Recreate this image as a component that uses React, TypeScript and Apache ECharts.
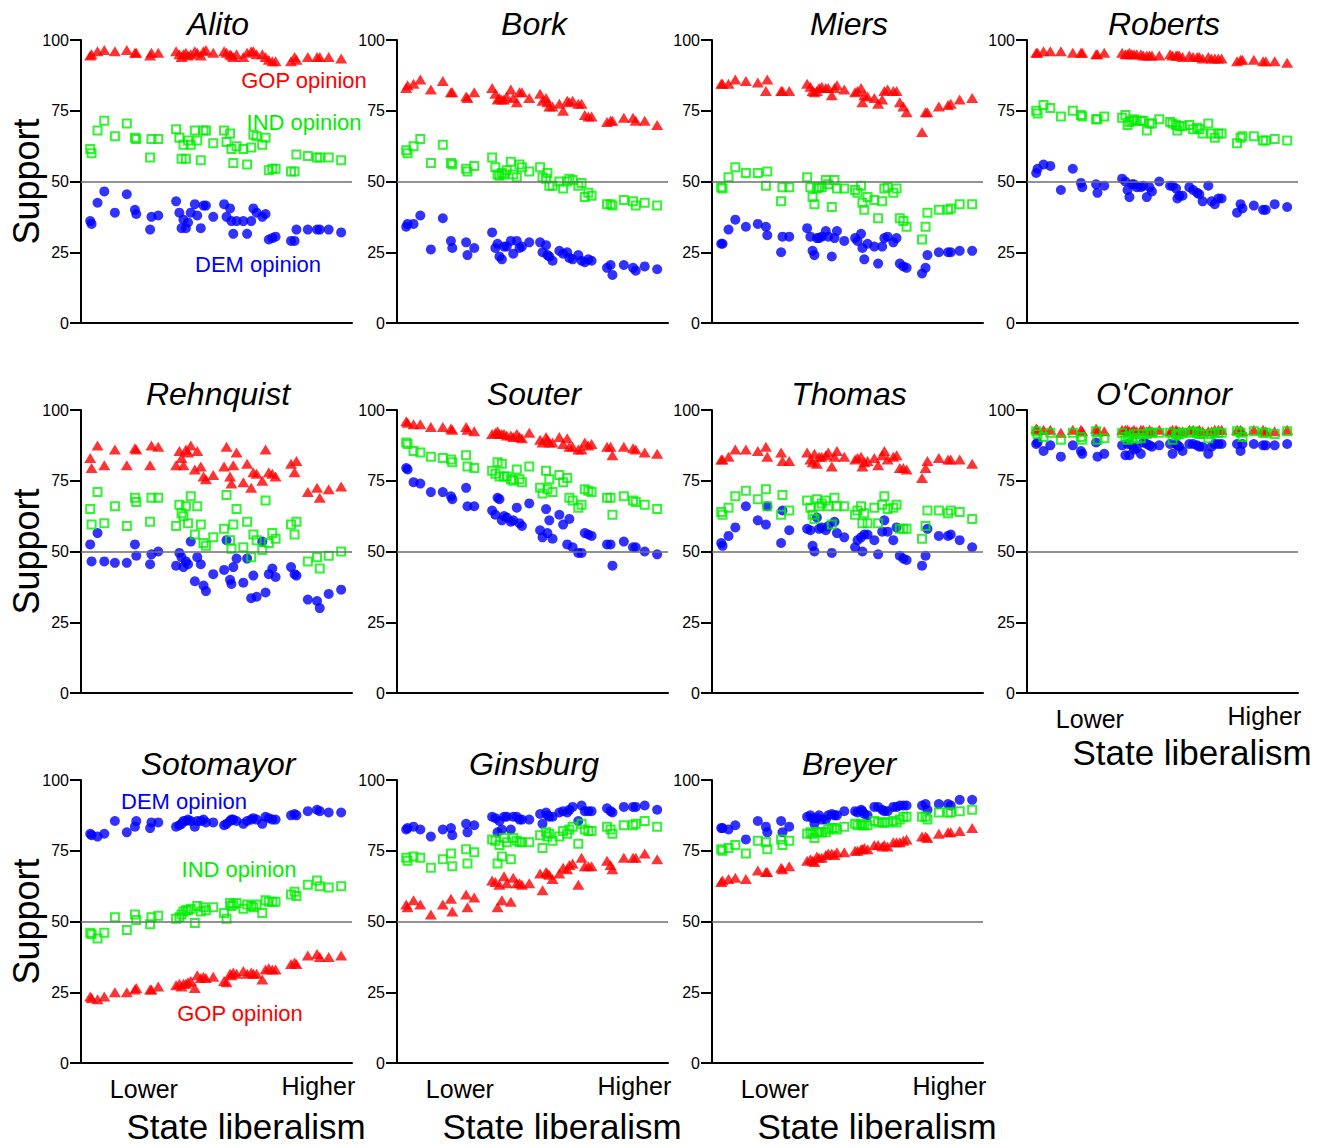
import React, { useEffect, useRef } from 'react';
import * as echarts from 'echarts';

// State liberalism scores (0 = most conservative, 100 = most liberal), shared by all panels
const stateX = [3.4, 3.9, 6.1, 8.6, 12.5, 16.9, 19.9, 20.4, 25.5, 26.0, 28.5, 35.1, 36.3, 37.1, 37.8, 38.7, 39.5, 40.5, 42.0, 42.9, 44.2, 45.2, 46.1, 48.8, 52.8, 53.7, 55.0, 55.5, 56.2, 57.4, 59.9, 61.3, 62.8, 63.6, 64.8, 66.9, 68.1, 69.3, 70.6, 71.8, 77.5, 78.8, 79.5, 83.7, 87.1, 88.1, 91.4, 96.0];

const yTicks = [0, 25, 50, 75, 100];
const xTickLabels = ['Lower', 'Higher'];
const xTickValues = [23.2, 87.6];

const alitoGop = [94.5, 95, 96, 96.5, 96, 96.5, 95.5, 95.5, 94.5, 95.5, 95.5, 96, 95, 94, 95, 95.5, 94.5, 95, 96, 95.5, 94.5, 96, 96.5, 95.5, 96, 95.5, 95, 94.5, 94, 95, 94, 95.5, 96, 96, 95, 95, 94, 93, 92.5, 92.5, 92.5, 94, 93, 94, 94, 94, 94, 93.5];
const alitoInd = [61.5, 60, 68, 71.5, 66, 70.5, 65.5, 65, 58.5, 65, 65, 68.5, 65.5, 58, 63, 58, 64.5, 63, 68, 64.5, 57.5, 68, 68, 63.5, 68, 64, 67, 61.5, 56.5, 62.5, 61.5, 56, 62, 66.5, 66, 63, 65.5, 54, 54.5, 54.5, 53.5, 53.5, 59.5, 59, 58.5, 58.5, 58.5, 57.5];
const alitoDem = [36, 35, 42.5, 46.5, 39, 45.5, 40, 38.5, 33, 37.5, 38, 43, 39, 33.5, 36.5, 33.5, 35.5, 39, 42, 38, 33.5, 41.5, 41.5, 37.5, 42, 37.5, 40.5, 36, 31.5, 36, 36, 31.5, 36, 40.5, 39, 37.5, 38.5, 29.5, 30, 30.5, 29, 29, 33, 33, 33, 33, 33, 32];

const borkGop = [83, 84, 84.5, 86, 82.5, 85.5, 81.5, 81.5, 80, 79.5, 81.5, 83, 81, 79, 79.5, 79, 79, 80, 82.5, 79.5, 78, 81.5, 81.5, 79.5, 81, 78.5, 79.5, 78, 76.5, 76.5, 77.5, 75, 78.5, 78, 78.5, 77.5, 77.5, 73.5, 73, 73, 71, 71.5, 71.5, 72.5, 72.5, 71.5, 71.5, 70];
const borkInd = [61, 60, 62.5, 65, 56.5, 63, 56.5, 56, 54.5, 53.5, 55.5, 58.5, 55, 52.5, 52, 53, 52.5, 54, 57, 52.5, 51.5, 56, 55, 53.5, 55, 51.5, 51, 53, 48.5, 48.5, 50, 47.5, 50, 51, 50.5, 48.5, 49.5, 44.5, 46, 45, 42, 42, 41.5, 43.5, 43, 41.5, 42.5, 41.5];
const borkDem = [34, 35, 35, 38, 26, 37, 29, 26.5, 28.5, 24, 26.5, 32, 26.5, 28, 23.5, 22.5, 27, 27, 29, 24.5, 29, 26.5, 27, 28.5, 28.5, 25, 27.5, 24, 23.5, 22, 25.5, 24.5, 25, 23, 22.5, 24, 22, 21.5, 22.5, 22, 19.5, 20.5, 17, 20.5, 19.5, 18.5, 20, 19];

const miersGop = [84.5, 84.5, 84.5, 86, 85.5, 85, 82, 86, 82, 82, 82, 84.5, 83.5, 82, 81.5, 82, 83, 83.5, 83, 83, 80.5, 83, 84, 82.5, 81.5, 82, 83, 78, 80.5, 80, 79.5, 77.5, 79, 82, 82.5, 82, 82, 78, 76.5, 74.5, 67.5, 74.5, 74.5, 76.5, 77, 77.5, 79, 79.5];
const miersInd = [48, 47.5, 51.5, 55, 53, 53, 48.5, 53.5, 43, 48, 48, 51.5, 48, 44.5, 42, 47.5, 48, 48, 50.5, 49, 41, 50.5, 47.5, 47.5, 47, 46, 48.5, 42.5, 40, 44.5, 43.5, 37, 43, 47.5, 48, 46, 47.5, 37, 36, 34, 29.5, 34, 39, 40, 40, 40.5, 42, 42];
const miersDem = [28, 28, 33, 36.5, 34, 35, 34, 31, 25, 30.5, 30.5, 33.5, 30.5, 25.5, 24, 30, 30, 30.5, 32.5, 30.5, 23.5, 30, 32.5, 29, 30, 29, 31.5, 26.5, 22.5, 28, 27, 21, 27, 30, 30.5, 28.5, 30, 21, 20, 19.5, 17.5, 19.5, 24, 25, 25, 25, 25.5, 25.5];

const robertsGop = [95.5, 95.5, 96, 96, 96, 95.5, 95.5, 95.5, 95, 95, 95.5, 95.5, 95, 95, 95.5, 95, 95, 95, 95, 94.5, 94.5, 94.5, 94.5, 94.5, 95, 94.5, 94.5, 94.5, 94.5, 94, 94.5, 94, 94, 94, 93.5, 94, 93.5, 93.5, 93.5, 93.5, 92.5, 93, 93, 93, 92.5, 92.5, 92.5, 92];
const robertsInd = [75, 74, 77, 76, 73, 75, 73.5, 73, 72, 72, 73, 72.5, 73.5, 70, 71, 71.5, 72, 71.5, 71.5, 71.5, 68, 70.5, 70.5, 72, 71, 70.5, 70, 68, 69.5, 69.5, 70, 68.5, 69, 68.5, 67, 70.5, 67, 65.5, 67, 67, 63.5, 65.5, 66, 66, 64.5, 64.5, 65, 64.5];
const robertsDem = [53, 54.5, 56, 55.5, 47, 54.5, 49.5, 48, 49, 46, 48.5, 51, 50, 47, 44.5, 49, 49, 48, 48, 48.5, 44.5, 48, 46.5, 50, 48.5, 48.5, 47.5, 44, 45, 45, 48, 47, 46, 45.5, 43, 48.5, 43, 42, 44, 44, 39, 42, 40.5, 41.5, 40, 40, 42, 41];

const rehnquistGop = [83, 79.5, 87.5, 80.5, 86, 80.5, 86.5, 86, 80.5, 87.5, 87, 80.5, 85.5, 83, 80.5, 86, 85, 87.5, 79, 85.5, 80, 76.5, 75.5, 77, 80, 87, 76.5, 74, 80.5, 85, 74.5, 81, 72.5, 78, 77.5, 75, 86, 78, 77.5, 76.5, 81, 78, 82, 71, 72.5, 69, 72, 73];
const rehnquistInd = [65, 59.5, 71, 60, 66, 59, 69, 67.5, 60.5, 69, 69, 59, 66.5, 63.5, 62.5, 66, 60, 69.5, 56, 66, 59.5, 53, 52, 55, 58, 70, 54, 51, 59.5, 65, 51.5, 60.5, 48, 56, 54, 50.5, 68, 53, 56.5, 54.5, 59.5, 56, 60.5, 46.5, 48, 44, 48.5, 50];
const rehnquistDem = [52.5, 46.5, 56.5, 46.5, 46, 46, 52.5, 48.5, 45.5, 49, 50, 45, 49.5, 48, 44.5, 46.5, 45.5, 53.5, 39.5, 48, 45.5, 38, 36, 42, 43.5, 54, 40, 38.5, 44.5, 47.5, 39, 47.5, 33.5, 41.5, 34, 53.5, 35.5, 42, 44, 41, 44.5, 42, 41.5, 33, 32.5, 30, 35, 36.5];

const souterGop = [96, 95.5, 95, 95, 94, 94, 93.5, 93, 94, 93, 92.5, 91.5, 92, 92.5, 91.5, 91.5, 91.5, 91, 91, 90.5, 91.5, 90.5, 90, 92, 89.5, 88.5, 90.5, 89.5, 88.5, 88.5, 90.5, 88, 90, 87, 87, 86, 86, 88.5, 87.5, 88, 87, 87, 84, 87, 86.5, 86, 85, 84.5];
const souterInd = [88.5, 88, 85.5, 85, 83.5, 83, 82.5, 81.5, 84, 80, 79.5, 78.5, 77.5, 81.5, 76.5, 81, 76.5, 76.5, 75.5, 75, 79, 75.5, 74.5, 80, 72.5, 70.5, 78.5, 72, 75.5, 71, 77, 74.5, 76, 69, 68, 65.5, 66.5, 72, 71.5, 71, 69, 69, 63, 69.5, 68, 67.5, 66.5, 65];
const souterDem = [79.5, 79, 74.5, 74, 71, 71, 69.5, 68.5, 72.5, 66, 66, 64.5, 63, 69, 68.5, 61, 62.5, 62, 60.5, 61, 65.5, 60, 59, 67, 57.5, 55, 65, 56.5, 61, 54.5, 63, 59.5, 52.5, 61.5, 51.5, 49.5, 49.5, 56.5, 56, 55.5, 52.5, 52.5, 45, 53.5, 51.5, 51.5, 50, 49];

const thomasGop = [82.5, 82.5, 83.5, 86, 86, 85.5, 87, 83.5, 85, 82, 82, 85, 82.5, 81.5, 84.5, 81, 83.5, 83.5, 84, 85, 80, 83.5, 85.5, 83.5, 82.5, 83, 83.5, 80, 81.5, 82, 83, 80.5, 84, 85.5, 82.5, 83.5, 84, 79.5, 79.5, 79, 76, 79.5, 82, 83, 82.5, 82.5, 82.5, 81];
const thomasInd = [64, 63, 65.5, 69.5, 71.5, 68.5, 72, 66, 63, 70, 64.5, 68, 65.5, 63, 61.5, 68.5, 66, 67, 68, 66, 59.5, 69, 66, 66, 63, 64.5, 66, 60, 63.5, 60, 65.5, 60, 66.5, 69.5, 65, 65.5, 66.5, 58, 58, 58, 54.5, 59, 64.5, 64.5, 63.5, 64.5, 64, 61.5];
const thomasDem = [53, 52, 55.5, 58.5, 66, 61, 59.5, 66, 53, 64.5, 57.5, 58, 57.5, 52, 50, 62, 58, 58.5, 57.5, 59, 49.5, 60.5, 56.5, 55, 51.5, 54, 55, 50, 56, 56, 54, 49, 57, 61, 57, 54, 58.5, 48.5, 47.5, 47, 45, 48.5, 58, 55.5, 55.5, 56, 54, 51.5];

const oconnorGop = [93.5, 93, 93, 93, 92, 93, 93, 92.5, 93.5, 92.5, 92.5, 93, 93, 93, 92.5, 92.5, 93, 92.5, 93, 93, 92.5, 93, 92.5, 93, 92.5, 93, 93, 92.5, 92.5, 92.5, 93, 93, 92.5, 93, 92.5, 92.5, 92.5, 93, 93, 93, 93, 93, 92.5, 93, 93, 92.5, 92.5, 93];
const oconnorInd = [92.5, 91.5, 90.5, 92, 89.5, 92, 90.5, 89.5, 92.5, 89.5, 90, 92, 90.5, 89.5, 91, 90, 91.5, 90, 90, 91.5, 91.5, 92, 92, 92, 92, 89.5, 91, 91.5, 91.5, 92, 92, 92.5, 92, 91.5, 91.5, 90, 91.5, 92, 92, 92, 92.5, 92, 90.5, 92.5, 92, 92, 91.5, 92.5];
const oconnorDem = [88, 88.5, 85.5, 87.5, 83.5, 87.5, 85.5, 84.5, 88.5, 83.5, 84.5, 87.5, 84, 88, 84, 87.5, 86, 86.5, 84.5, 88.5, 88, 87.5, 87, 87.5, 88, 84.5, 88, 87.5, 87, 85.5, 88, 88, 87.5, 87, 87, 84.5, 87, 88, 88, 88, 88, 85.5, 88, 88, 87.5, 87.5, 87.5, 88];

const sotomayorGop = [23.5, 23, 22.5, 23.5, 25, 25, 26, 26.5, 26, 26, 27, 27.5, 28, 27, 28, 28, 28.5, 29, 26.5, 31, 30, 30.5, 30, 30.5, 29, 28.5, 31.5, 31, 32, 31.5, 32.5, 31.5, 32, 31.5, 31.5, 29.5, 33, 33.5, 33, 33, 35, 35.5, 35, 38, 38.5, 37.5, 37.5, 38];
const sotomayorInd = [46, 45.5, 44, 46, 51.5, 47, 52.5, 50.5, 49, 51.5, 52, 51, 51.5, 52.5, 53.5, 54, 54, 54.5, 49.5, 55.5, 53.5, 55, 54, 55, 53, 51, 56.5, 55.5, 56, 56.5, 54.5, 56, 55.5, 55, 56, 53, 57.5, 57, 57, 57, 59.5, 60.5, 59, 63, 64.5, 62.5, 62, 62.5];
const sotomayorDem = [81, 80.5, 80, 81, 85.5, 81.5, 83.5, 85.5, 83, 85, 85, 83.5, 84, 84.5, 85.5, 85.5, 86, 85.5, 83.5, 85.5, 85.5, 86, 85, 85, 84, 84.5, 85.5, 86, 86, 85.5, 84.5, 85.5, 86, 86.5, 86, 84.5, 87, 86.5, 86, 86, 87.5, 88, 87.5, 89, 89.5, 89, 88.5, 88.5];

const ginsburgGop = [56, 55, 57.5, 56, 52.5, 56, 58, 53.5, 59.5, 55, 58.5, 64.5, 64, 55, 63, 57.5, 66, 63.5, 57, 65.5, 63.5, 63.5, 63, 63.5, 67, 61, 67.5, 67, 66.5, 65, 67, 69, 68.5, 70, 70.5, 63, 72.5, 69.5, 69.5, 69.5, 71.5, 70, 68.5, 72.5, 72.5, 72.5, 74, 72];
const ginsburgInd = [72.5, 71.5, 73, 72.5, 69, 72, 74, 69.5, 75.5, 70.5, 74.5, 79, 78.5, 70.5, 77, 73, 79.5, 78, 72, 79.5, 78.5, 78, 78, 78, 80.5, 76, 81.5, 80, 81, 78.5, 80, 82, 81, 82.5, 83.5, 77.5, 84.5, 82.5, 82, 82, 83.5, 82.5, 81, 84, 84, 84.5, 85.5, 83.5];
const ginsburgDem = [82.5, 83, 83.5, 82.5, 80, 82.5, 83, 80.5, 84.5, 81.5, 84, 87, 86.5, 81.5, 85.5, 82.5, 87, 87, 82.5, 87, 87, 86, 86, 86, 88, 84.5, 88.5, 87.5, 87, 87, 88.5, 89, 88.5, 89.5, 90.5, 85.5, 91, 89, 89, 89, 90, 89, 88.5, 90.5, 90.5, 90.5, 91, 89.5];

const breyerGop = [64, 64.5, 65, 65.5, 65, 68, 67.5, 67.5, 69, 68.5, 69.5, 71.5, 72, 71.5, 71, 73, 72.5, 72.5, 73.5, 74, 74, 73.5, 74.5, 74.5, 75, 75, 75.5, 75.5, 76, 75.5, 77, 77, 76.5, 77, 76.5, 78, 78, 78, 78.5, 79, 80, 80, 79.5, 81, 81.5, 81.5, 82, 83];
const breyerInd = [75.5, 75, 76, 77, 74, 78.5, 78, 75.5, 79, 77, 78.5, 81, 81.5, 81, 79.5, 81.5, 81.5, 81.5, 81.5, 82.5, 83, 83, 82.5, 83.5, 84.5, 84, 84.5, 84, 84, 84, 85.5, 85, 85, 85, 85, 85.5, 85, 86, 87, 87, 87, 87, 86, 88.5, 88.5, 88.5, 89, 89.5];
const breyerDem = [83, 83, 82.5, 84, 79, 85.5, 83.5, 81.5, 85.5, 81.5, 83.5, 87, 87.5, 86.5, 84.5, 86.5, 87.5, 86, 86, 87.5, 88, 87.5, 87.5, 89, 89, 88.5, 89.5, 89, 88, 87.5, 90.5, 90.5, 89.5, 89, 89, 90.5, 90.5, 91, 91, 91, 91, 91.5, 89.5, 91.5, 91.5, 91, 93, 93];

const justiceNames = ['Alito', 'Bork', 'Miers', 'Roberts', 'Rehnquist', 'Souter', 'Thomas', "O'Connor", 'Sotomayor', 'Ginsburg', 'Breyer'];
const gopSeries = [alitoGop, borkGop, miersGop, robertsGop, rehnquistGop, souterGop, thomasGop, oconnorGop, sotomayorGop, ginsburgGop, breyerGop];
const indSeries = [alitoInd, borkInd, miersInd, robertsInd, rehnquistInd, souterInd, thomasInd, oconnorInd, sotomayorInd, ginsburgInd, breyerInd];
const demSeries = [alitoDem, borkDem, miersDem, robertsDem, rehnquistDem, souterDem, thomasDem, oconnorDem, sotomayorDem, ginsburgDem, breyerDem];

const FONT = '"Liberation Sans", Arial, Helvetica, sans-serif';
const RED = '#ff0000';
const GREEN = '#00ee00';
const BLUE = '#0000ff';

const COL_LEFT = [81, 397, 712, 1027];
const ROW_TOP = [40, 410, 780];
const GRID_W = 271;
const GRID_H = 283;

function buildOption() {
  const grid: any[] = [];
  const xAxis: any[] = [];
  const yAxis: any[] = [];
  const series: any[] = [];
  const graphic: any[] = [];

  justiceNames.forEach((name, i) => {
    const row = Math.floor(i / 4);
    const col = i % 4;
    const left = COL_LEFT[col];
    const top = ROW_TOP[row];
    const showX = row === 2 || i === 7;
    grid.push({ left, top, width: GRID_W, height: GRID_H, containLabel: false });
    xAxis.push({
      gridIndex: i,
      type: 'value',
      min: 0,
      max: 100,
      axisLine: { show: true, lineStyle: { color: '#000', width: 2 } },
      axisTick: { show: false },
      splitLine: { show: false },
      axisLabel: showX
        ? {
            show: true,
            customValues: xTickValues,
            formatter: (v: number) => (v < 50 ? '{lo|' + xTickLabels[0] + '}' : '{hi|' + xTickLabels[1] + '}'),
            fontSize: 25,
            fontFamily: FONT,
            color: '#000',
            margin: 10,
            rich: {
              lo: { fontSize: 25, fontFamily: FONT, color: '#000', padding: [3, 0, 0, 0] },
              hi: { fontSize: 25, fontFamily: FONT, color: '#000', padding: [0, 0, 3, 0] },
            },
          }
        : { show: false },
    });
    yAxis.push({
      gridIndex: i,
      type: 'value',
      min: 0,
      max: 100,
      interval: 25,
      axisLine: { show: true, lineStyle: { color: '#000', width: 2 } },
      axisTick: { show: true, length: 11, lineStyle: { color: '#000', width: 2 } },
      splitLine: { show: false },
      axisLabel: {
        show: true,
        fontSize: 16,
        fontFamily: FONT,
        color: '#000',
        margin: 12,
        formatter: (v: number) => (yTicks.includes(v) ? String(v) : ''),
      },
    });
    series.push({
      type: 'scatter',
      xAxisIndex: i,
      yAxisIndex: i,
      symbol: 'circle',
      symbolSize: 10,
      itemStyle: { color: BLUE },
      data: stateX.map((x, k) => [x, demSeries[i][k]]),
      markLine: {
        silent: true,
        symbol: ['none', 'none'],
        label: { show: false },
        lineStyle: { color: '#6e6e6e', width: 1.6, type: 'solid' },
        data: [{ yAxis: 50 }],
      },
    });
    series.push({
      type: 'scatter',
      xAxisIndex: i,
      yAxisIndex: i,
      symbol: 'triangle',
      symbolSize: [12, 10],
      itemStyle: { color: RED },
      data: stateX.map((x, k) => [x, gopSeries[i][k]]),
    });
    series.push({
      type: 'scatter',
      xAxisIndex: i,
      yAxisIndex: i,
      symbol: 'rect',
      symbolSize: 8,
      itemStyle: { color: 'rgba(255,255,255,0)', borderColor: GREEN, borderWidth: 2 },
      data: stateX.map((x, k) => [x, indSeries[i][k]]),
    });
    graphic.push({
      type: 'text',
      x: left + 137,
      y: top - 16,
      style: {
        text: name,
        fontSize: 32,
        fontStyle: 'italic',
        fontFamily: FONT,
        fill: '#000',
        align: 'center',
        verticalAlign: 'middle',
        textAlign: 'center',
        textVerticalAlign: 'middle',
      },
    });
    if (showX) {
      graphic.push({
        type: 'text',
        x: left + 165,
        y: row === 2 ? top + GRID_H + 63 : top + GRID_H + 59,
        style: {
          text: 'State liberalism',
          fontSize: 35,
          fontFamily: FONT,
          fill: '#000',
          align: 'center',
          verticalAlign: 'middle',
          textAlign: 'center',
          textVerticalAlign: 'middle',
        },
      });
    }
  });

  ROW_TOP.forEach((top) => {
    graphic.push({
      type: 'text',
      x: 26,
      y: top + GRID_H / 2,
      rotation: Math.PI / 2,
      style: {
        text: 'Support',
        fontSize: 36,
        fontFamily: FONT,
        fill: '#000',
        align: 'center',
        verticalAlign: 'middle',
        textAlign: 'center',
        textVerticalAlign: 'middle',
      },
    });
  });

  const notes = [
    { text: 'GOP opinion', x: 304, y: 80, fill: RED },
    { text: 'IND opinion', x: 304, y: 122, fill: GREEN },
    { text: 'DEM opinion', x: 258, y: 264, fill: BLUE },
    { text: 'DEM opinion', x: 184, y: 801, fill: BLUE },
    { text: 'IND opinion', x: 239, y: 869, fill: GREEN },
    { text: 'GOP opinion', x: 240, y: 1013, fill: RED },
  ];
  notes.forEach((n) => {
    graphic.push({
      type: 'text',
      x: n.x,
      y: n.y,
      z: 100,
      style: {
        text: n.text,
        fontSize: 22,
        fontFamily: FONT,
        fill: n.fill,
        align: 'center',
        verticalAlign: 'middle',
        textAlign: 'center',
        textVerticalAlign: 'middle',
      },
    });
  });

  return {
    animation: false,
    backgroundColor: '#ffffff',
    grid,
    xAxis,
    yAxis,
    series,
    graphic,
  };
}

export default function App() {
  const ref = useRef<HTMLDivElement>(null);
  useEffect(() => {
    if (!ref.current) return;
    const chart = echarts.init(ref.current, undefined, { renderer: 'svg' });
    chart.setOption(buildOption() as any);
    return () => chart.dispose();
  }, []);
  return (
    <div
      ref={ref}
      style={{ position: 'fixed', left: 0, top: 0, width: 1329, height: 1148, background: '#fff' }}
    />
  );
}
